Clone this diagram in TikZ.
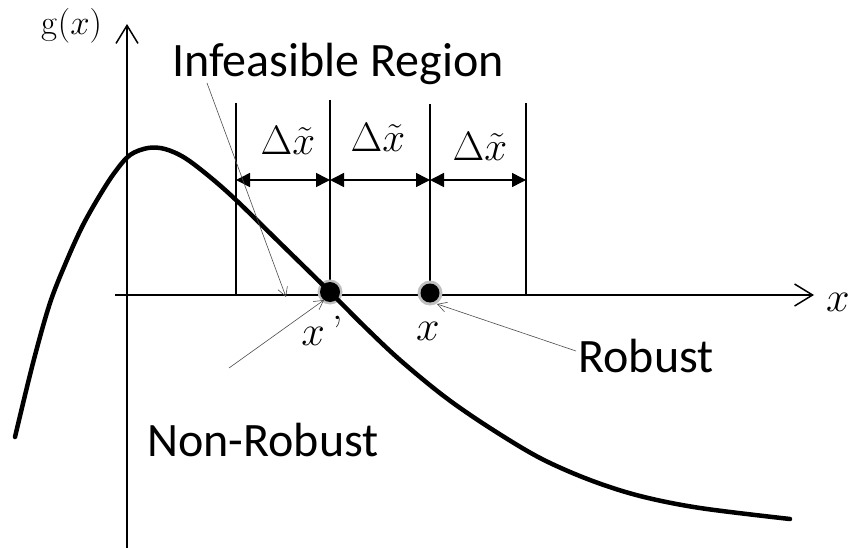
\documentclass[tikz,border=0pt]{standalone}
\usepackage{graphicx}
\usepackage{fontspec}
\newfontfamily\labfont{Carlito}
\usetikzlibrary{arrows.meta}
\newcommand{\mylabsc}[2]{\scalebox{#1}{\Huge #2}}
\begin{document}
\begin{tikzpicture}[x=1pt,y=-1pt,
  axisline/.style={line width=1.5pt,-{Straight Barb[length=18pt,width=22pt,line width=1.5pt]}},
  vline/.style={line width=1.5pt},
  dimarrow/.style={line width=1.5pt,{Triangle[length=14pt,width=14pt]}-{Triangle[length=14pt,width=14pt]}},
  pointer/.style={line width=0.6pt,draw=black!70,-{Straight Barb[length=9pt,width=10pt,line width=0.6pt]}},
  curveline/.style={line width=4.5pt,line join=round,line cap=round},
  dotnode/.style={circle,fill=black,inner sep=0pt,minimum size=20pt},
  halo/.style={circle,fill=black!25,inner sep=0pt,minimum size=25pt},
  sanslab/.style={font=\labfont\fontsize{48}{52}\selectfont,inner sep=0pt},
  mathlab/.style={inner sep=0pt}]
\useasboundingbox (0,0) rectangle (853,548);
% axes
\coordinate (yb) at (127,548);
\coordinate (yt) at (127,24);
\coordinate (xl) at (115,295);
\coordinate (xr) at (814,295);
\draw[axisline] (yb) -- (yt);
\draw[axisline] (xl) -- (xr);
\node[mathlab] (glab) at (72,26) {\mylabsc{1.4}{g$(x)$}};
\node[mathlab] (xlab) at (838,302) {\mylabsc{1.7}{$x$}};
% vertical lines
\coordinate (atop) at (236,103); \coordinate (abot) at (236,295); \coordinate (amid) at (236,180);
\coordinate (btop) at (330,100); \coordinate (bbot) at (330,295); \coordinate (bmid) at (330,180);
\coordinate (ctop) at (430,104); \coordinate (cbot) at (430,295); \coordinate (cmid) at (430,180);
\coordinate (dtop) at (526,103); \coordinate (dbot) at (526,295); \coordinate (dmid) at (526,180);
\draw[vline] (atop) -- (abot);
\draw[vline] (btop) -- (bbot);
\draw[vline] (ctop) -- (cbot);
\draw[vline] (dtop) -- (dbot);
\draw[dimarrow] (amid) -- (bmid);
\draw[dimarrow] (bmid) -- (cmid);
\draw[dimarrow] (cmid) -- (dmid);
\node[mathlab] (d1) at (288,140) {\mylabsc{1.65}{$\Delta\tilde{x}$}};
\node[mathlab] (d2) at (378,137) {\mylabsc{1.65}{$\Delta\tilde{x}$}};
\node[mathlab] (d3) at (480,146) {\mylabsc{1.65}{$\Delta\tilde{x}$}};
% dots (halo)
\node[halo] (hp) at (330,292) {};
\node[halo] (hr) at (430,293) {};
% curve
\draw[curveline] plot[smooth,tension=0.55] coordinates {(15,437) (33,363) (50,303) (67,260) (83,225) (100,195) (115,172) (130,155) (148,148) (165,149) (185,158) (210,177) (236,200) (280,243) (330,292) (365,327) (400,360) (445,397) (490,428) (540,458) (590,480) (640,496) (700,508) (790,519)};
\node[dotnode] (xp) at (330,292) {};
\node[dotnode,minimum size=19pt] (xr0) at (430,293) {};
\node[mathlab] (xplab) at (322,331) {\mylabsc{1.7}{$x$\,'}};
\node[mathlab] (xlab2) at (428,331) {\mylabsc{1.7}{$x$}};
% labels
\node[sanslab] (inf) at (338,64) {Infeasible Region};
\node[sanslab] (nonrob) at (263,440) {Non-Robust};
\node[sanslab] (rob) at (646,356) {Robust};
% pointers
\coordinate (infs) at (207,83);
\coordinate (infe) at (286,297);
\draw[pointer] (infs) -- (infe);
\coordinate (nrs) at (229,368);
\coordinate (nre) at (324,300);
\draw[pointer] (nrs) -- (nre);
\coordinate (rs) at (576,351);
\coordinate (re) at (437,304);
\draw[pointer] (rs) -- (re);
\end{tikzpicture}
\end{document}
